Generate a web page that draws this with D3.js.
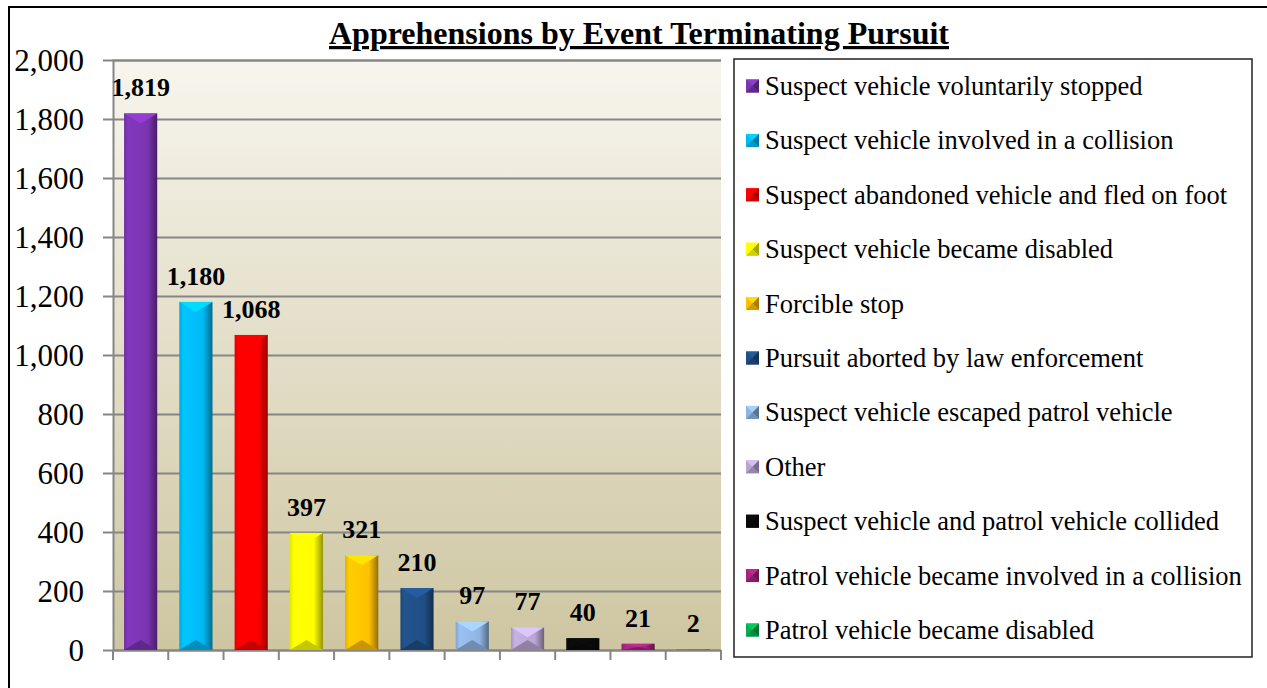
<!DOCTYPE html>
<html>
<head>
<meta charset="utf-8">
<script src="https://cdn.jsdelivr.net/npm/d3@7"></script>
<style>
	body { margin: 0; background: #fff; }
	text { font-family: "Liberation Serif", "Times New Roman", serif; }
</style>
</head>
<body>
<div id="chart"></div>
<script>
// chart values
let categories = [
	"Suspect vehicle voluntarily stopped",
	"Suspect vehicle involved in a collision",
	"Suspect abandoned vehicle and fled on foot",
	"Suspect vehicle became disabled",
	"Forcible stop",
	"Pursuit aborted by law enforcement",
	"Suspect vehicle escaped patrol vehicle",
	"Other",
	"Suspect vehicle and patrol vehicle collided",
	"Patrol vehicle became involved in a collision",
	"Patrol vehicle became disabled"
];
let counts = [1819, 1180, 1068, 397, 321, 210, 97, 77, 40, 21, 2];
let colors = ["#7a34b0", "#00b8f2", "#ff0000", "#ffff00", "#ffc000", "#1f4e85",
	"#8fb4e3", "#b9a6d3", "#0a0a0a", "#a3237e", "#00b050"];
let yTicks = [0, 200, 400, 600, 800, 1000, 1200, 1400, 1600, 1800, 2000];

function drawChart() {
	let W = 1267, H = 688;
	let plot = { left: 113, top: 60, right: 721, bottom: 650 };

	let svg = d3.select("#chart")
		.append("svg")
		.attr("width", W)
		.attr("height", H);

	let defs = svg.append("defs");

	let bg = defs.append("linearGradient")
		.attr("id", "bg")
		.attr("x1", 0).attr("y1", 0).attr("x2", 0).attr("y2", 1);
	bg.append("stop").attr("offset", "0%").attr("stop-color", "#f7f5ed");
	bg.append("stop").attr("offset", "100%").attr("stop-color", "#cec6a1");

	// one horizontal gradient per bar colour
	colors.forEach(function (c, i) {
		let base = d3.color(c);
		let g = defs.append("linearGradient")
			.attr("id", "bar" + i)
			.attr("x1", 0).attr("y1", 0).attr("x2", 1).attr("y2", 0);
		g.append("stop").attr("offset", "0%").attr("stop-color", base.darker(0.3));
		g.append("stop").attr("offset", "12%").attr("stop-color", base.brighter(0.2));
		g.append("stop").attr("offset", "45%").attr("stop-color", base.brighter(0.1));
		g.append("stop").attr("offset", "72%").attr("stop-color", base);
		g.append("stop").attr("offset", "100%").attr("stop-color", base.darker(1.5));
	});

	// outer frame (cut off on the right and bottom)
	svg.append("rect")
		.attr("x", 9).attr("y", 7)
		.attr("width", W).attr("height", H)
		.attr("fill", "none")
		.attr("stroke", "#000")
		.attr("stroke-width", 2);

	let xScale = d3.scaleBand()
		.domain(d3.range(categories.length))
		.range([plot.left, plot.right])
		.paddingInner(0.4)
		.paddingOuter(0.2);
	let yScale = d3.scaleLinear()
		.domain([0, 2000])
		.range([plot.bottom, plot.top]);

	svg.append("rect")
		.attr("x", plot.left).attr("y", plot.top)
		.attr("width", plot.right - plot.left)
		.attr("height", plot.bottom - plot.top)
		.attr("fill", "url(#bg)");

	// y axis with gridlines
	let yAxis = svg.append("g")
		.attr("transform", "translate(" + plot.left + ",0)")
		.call(d3.axisLeft(yScale)
			.tickValues(yTicks)
			.tickSize(-(plot.right - plot.left))
			.tickPadding(29)
			.tickFormat(d3.format(",")));
	yAxis.select(".domain").attr("stroke", "#868686").attr("stroke-width", 2);
	yAxis.selectAll(".tick line")
		.attr("stroke", "#868686")
		.attr("stroke-width", 2)
		.attr("x1", -10);
	yAxis.selectAll(".tick text")
		.attr("fill", "#000")
		.attr("dy", "0.34em")
		.style("font-size", "31px");

	// category ticks
	let bounds = d3.range(categories.length + 1).map(function (i) {
		return plot.left + i * (plot.right - plot.left) / categories.length;
	});
	svg.append("g").selectAll("line")
		.data(bounds)
		.enter().append("line")
		.attr("x1", function (d) { return d; })
		.attr("x2", function (d) { return d; })
		.attr("y1", plot.bottom)
		.attr("y2", plot.bottom + 10)
		.attr("stroke", "#868686")
		.attr("stroke-width", 2);

	// bars with bevel
	let bars = svg.append("g").selectAll("g")
		.data(counts)
		.enter().append("g");

	bars.append("rect")
		.attr("x", function (d, i) { return xScale(i); })
		.attr("y", function (d) { return yScale(d); })
		.attr("width", xScale.bandwidth())
		.attr("height", function (d) { return plot.bottom - yScale(d); })
		.attr("fill", function (d, i) { return "url(#bar" + i + ")"; });

	bars.append("path")
		.attr("d", function (d, i) {
			let x = xScale(i), w = xScale.bandwidth(), y = yScale(d);
			let b = Math.min(10, (plot.bottom - y) / 2);
			return "M" + x + "," + y + "L" + (x + w) + "," + y + "L" + (x + w / 2) + "," + (y + b) + "Z";
		})
		.attr("fill", function (d, i) { return d3.color(colors[i]).brighter(0.5); });

	bars.append("path")
		.attr("d", function (d, i) {
			let x = xScale(i), w = xScale.bandwidth(), y = yScale(d);
			let b = Math.min(10, (plot.bottom - y) / 2);
			return "M" + x + "," + plot.bottom + "L" + (x + w) + "," + plot.bottom + "L" + (x + w / 2) + "," + (plot.bottom - b) + "Z";
		})
		.attr("fill", function (d, i) { return d3.color(colors[i]).darker(0.7); });

	bars.append("text")
		.attr("x", function (d, i) { return xScale(i) + xScale.bandwidth() / 2; })
		.attr("y", function (d) { return yScale(d) - 17; })
		.attr("text-anchor", "middle")
		.style("font-size", "26px")
		.style("font-weight", "bold")
		.text(function (d) { return d3.format(",")(d); });

	// title
	svg.append("text")
		.attr("x", 639)
		.attr("y", 44)
		.attr("text-anchor", "middle")
		.style("font-size", "32px")
		.style("font-weight", "bold")
		.style("text-decoration", "underline")
		.text("Apprehensions by Event Terminating Pursuit");

	// legend
	let legend = svg.append("g");
	legend.append("rect")
		.attr("x", 734).attr("y", 59)
		.attr("width", 518).attr("height", 598)
		.attr("fill", "#fff")
		.attr("stroke", "#222")
		.attr("stroke-width", 1.5);

	let items = legend.selectAll(".item")
		.data(categories)
		.enter().append("g")
		.attr("class", "item")
		.attr("transform", function (d, i) { return "translate(746," + (86 + i * 54.4) + ")"; });

	let s = 13;
	items.append("rect")
		.attr("x", 0).attr("y", -s / 2)
		.attr("width", s).attr("height", s)
		.attr("fill", function (d, i) { return colors[i]; });
	items.append("path")
		.attr("d", "M0," + (-s / 2) + "L" + s + "," + (-s / 2) + "L" + (s / 2) + ",0Z")
		.attr("fill", function (d, i) { return d3.color(colors[i]).brighter(0.4); });
	items.append("path")
		.attr("d", "M" + s + "," + (-s / 2) + "L" + s + "," + (s / 2) + "L" + (s / 2) + ",0Z")
		.attr("fill", function (d, i) { return d3.color(colors[i]).darker(1.2); });
	items.append("path")
		.attr("d", "M0," + (s / 2) + "L" + s + "," + (s / 2) + "L" + (s / 2) + ",0Z")
		.attr("fill", function (d, i) { return d3.color(colors[i]).darker(0.6); });

	items.append("text")
		.attr("x", 19)
		.attr("y", 9)
		.style("font-size", "26.5px")
		.text(function (d) { return d; });
}

drawChart();
</script>
</body>
</html>
